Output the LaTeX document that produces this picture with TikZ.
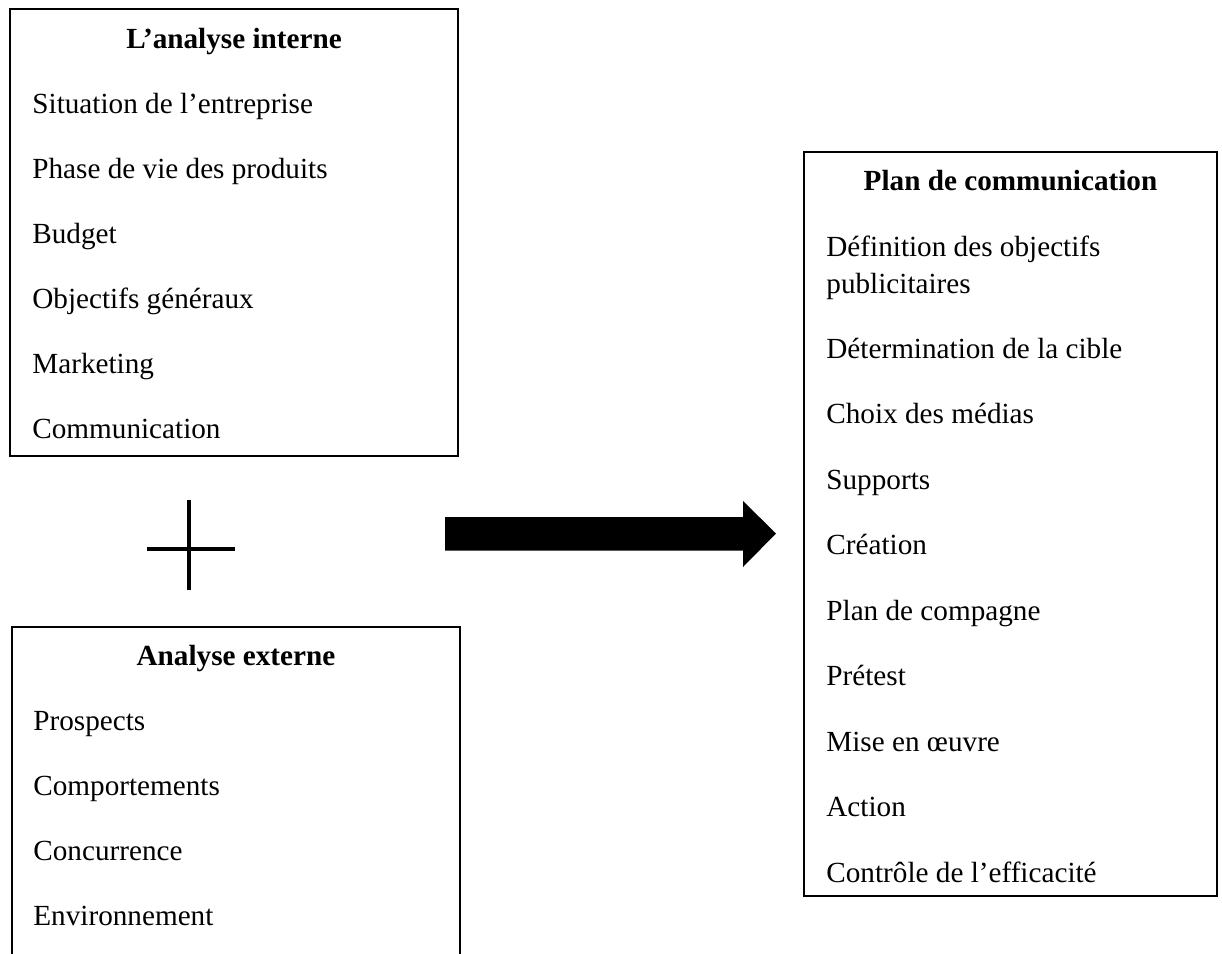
\documentclass[tikz,border=0pt]{standalone}
\usepackage{fontspec}
\setmainfont{Liberation Serif}
\usepackage{tikz}

\tikzset{
	boite/.style={draw, line width=1pt},
	titre/.style={anchor=base, inner sep=0pt, font=\fontsize{14.6}{18}\selectfont\bfseries},
	ligne/.style={anchor=base west, inner sep=0pt, font=\fontsize{14.6}{18}\selectfont},
	signe/.style={line width=2pt}
}

\begin{document}
\begin{tikzpicture}[x=0.5pt, y=-0.5pt]
		\useasboundingbox (0,0) rectangle (1222,954);
		\clip (0,0) rectangle (1222,954);

		% analyse interne
		\draw[boite] (10,9) rectangle (458,456);
		\node[titre] (interne) at (234,48) {L’analyse interne};
		\foreach \t [count=\i] in {Situation de l’entreprise, Phase de vie des produits, Budget, Objectifs généraux, Marketing, Communication}
		\node[ligne] (int\i) at (32,48+65*\i) {\t};

		% plus
		\draw[signe] (147,549) -- (235,549);
		\draw[signe] (189,500) -- (189,590);

		% analyse externe
		\draw[boite] (12,627) rectangle (460,990);
		\node[titre] (externe) at (236,665) {Analyse externe};
		\foreach \t [count=\i] in {Prospects, Comportements, Concurrence, Environnement}
		\node[ligne] (ext\i) at (33,665+65*\i) {\t};

		% grosse fleche
		\coordinate (depart) at (445,533.5);
		\coordinate (pointe) at (776,533.5);
		\fill (depart) ++(0,-16.5) -- ++(298,0) -- ++(0,-16) -- (pointe)
			-- ++(-33,33.5) -- ++(0,-16.5) -- ++(-298,0) -- cycle;

		% plan de communication
		\draw[boite] (804,152) rectangle (1217,896);
		\node[titre] (plan) at (1010.5,190) {Plan de communication};
		\node[ligne] (plan0) at (826,256) {Définition des objectifs};
		\node[ligne] (plan0b) at (826,293) {publicitaires};
		\foreach \t [count=\i] in {Détermination de la cible, Choix des médias, Supports, Création, Plan de compagne, Prétest, Mise en œuvre, Action, Contrôle de l’efficacité}
		\node[ligne] (plan\i) at (826,292.5+65.5*\i) {\t};
	\end{tikzpicture}
\end{document}
